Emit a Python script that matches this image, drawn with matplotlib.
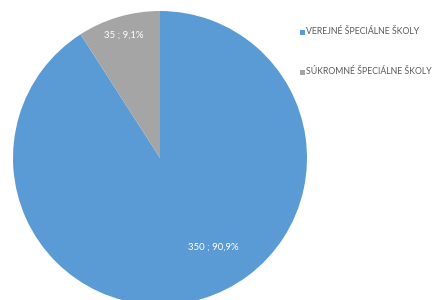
import matplotlib
matplotlib.use("Agg")
import matplotlib.pyplot as plt
from matplotlib.patches import Rectangle

categories = ["VEREJNÉ ŠPECIÁLNE ŠKOLY", "SÚKROMNÉ ŠPECIÁLNE ŠKOLY"]
values = [350, 35]
pct_labels = ["350 ; 90,9%", "35 ; 9,1%"]
colors = ["#5B9BD5", "#A5A5A5"]

plt.rcParams['font.family'] = ['Lato', 'DejaVu Sans']

fig = plt.figure(figsize=(4.36, 3.0), dpi=100)
ax = fig.add_axes([13/436, -5/300, 294/436, 294/300])
wedges, _ = ax.pie(values, colors=colors, startangle=90, counterclock=False,
                   radius=1.0, wedgeprops=dict(edgecolor="none", linewidth=0))
ax.set_xlim(-1, 1)
ax.set_ylim(-1, 1)
ax.set_aspect('equal')

label_pos = [(0.36, -0.605), (-0.25, 0.835)]
for txt, (x, y) in zip(pct_labels, label_pos):
    ax.text(x, y, txt, ha='center', va='center', color='white', fontsize=6.9)

# legend
ly = [32, 72]
for c, lab, y in zip(colors, categories, ly):
    fig.patches.append(Rectangle((300/436, 1 - (y + 2.5)/300), 4.5/436, 4.5/300,
                                 transform=fig.transFigure, facecolor=c, edgecolor='none'))
    fig.text(305.5/436, 1 - y/300, lab, ha='left', va='center', color='#595959', fontsize=6.3)

fig.savefig("out.png", dpi=100)
